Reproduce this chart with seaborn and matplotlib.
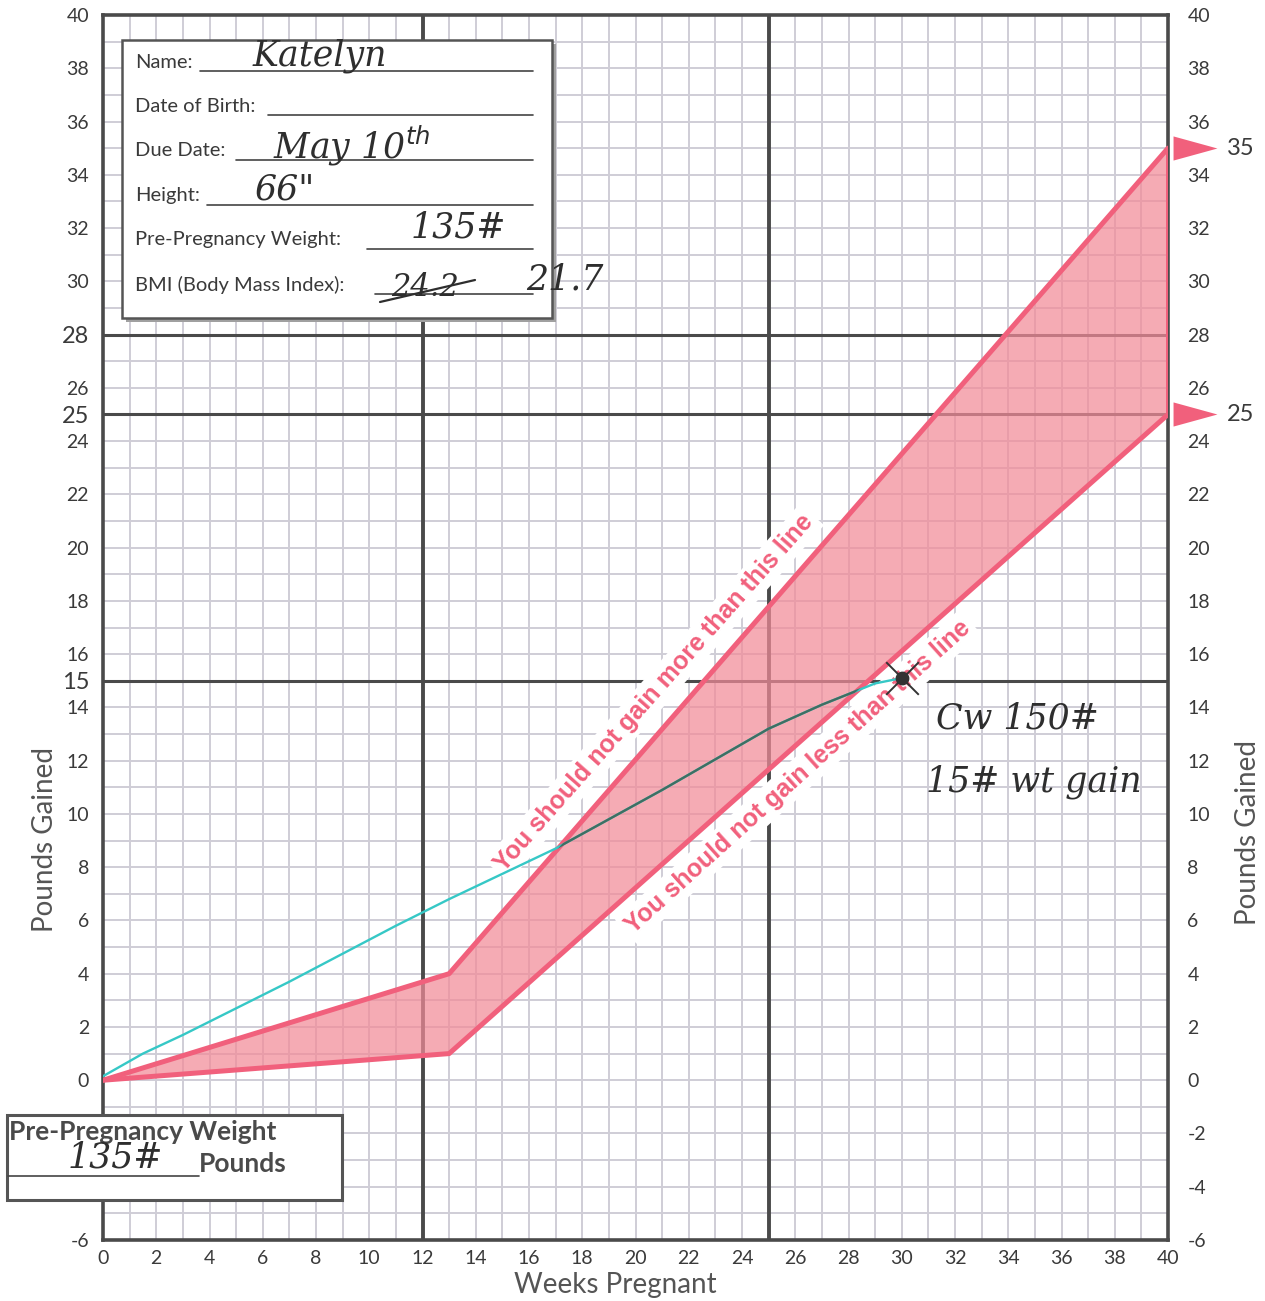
import matplotlib.pyplot as plt
import matplotlib.patches as patches
from matplotlib.lines import Line2D
import seaborn as sns

# recommended weight gain band (weeks pregnant -> pounds gained)
band_weeks = [0, 13, 40]
band_upper = [0, 4, 35]
band_lower = [0, 1, 25]

# patient's recorded gain
weeks = [0, 1.5, 3, 7, 11, 13, 17, 21, 25, 27, 29, 30]
gained = [0.15, 1.0, 1.7, 3.7, 5.8, 6.8, 8.7, 10.9, 13.2, 14.1, 14.9, 15.1]

x_ticks = list(range(0, 41, 2))
left_ticks = [-6, 0, 2, 4, 6, 8, 10, 12, 14, 15, 16, 18, 20, 22, 24, 25, 26, 28, 30, 32, 34, 36, 38, 40]
big_ticks = [15, 25, 28]
right_ticks = list(range(-6, 41, 2))
dark_weeks = [12, 25]
dark_pounds = [15, 25, 28]

form_fields = ['Name:', 'Date of Birth:', 'Due Date:', 'Height:',
               'Pre-Pregnancy Weight:', 'BMI (Body Mass Index):']
form_entries = ['Katelyn', '', 'May 10$^{th}$', '66"', '135#', '21.7']

W, H = 1265, 1301
PINK = '#f1607c'
GRID = '#cfcdd6'
DARK = '#4a4a4a'
TXT = '#3a3a3a'
HAND = dict(family='DejaVu Serif', style='italic', color='#2e2e2e')


def fpx(x, y):
    # pixel position in the picture -> figure fraction
    return x / W, 1 - y / H


sns.set_style('white')
plt.rcParams['font.family'] = ['Lato', 'DejaVu Sans']
plt.rcParams['axes.unicode_minus'] = False

fig = plt.figure(figsize=(W / 100, H / 100), dpi=100)
ax = fig.add_axes([103 / W, 1 - 1240 / H, 1065 / W, 1225 / H])
ax.set_xlim(0, 40)
ax.set_ylim(-6, 40)

# graph paper
ax.set_xticks(x_ticks)
ax.set_xticks(range(0, 41), minor=True)
ax.set_yticks(left_ticks)
ax.set_yticks(range(-6, 41), minor=True)
ax.grid(which='both', color=GRID, lw=1.4, zorder=0)
ax.set_axisbelow(True)
for w in dark_weeks:
    ax.axvline(w, color=DARK, lw=2.8, zorder=1)
for p in dark_pounds:
    ax.axhline(p, color=DARK, lw=2.2, zorder=1)
for s in ax.spines.values():
    s.set_color(DARK)
    s.set_linewidth(2.6)

ax.tick_params(which='both', length=0)
ax.tick_params(axis='y', pad=10, labelsize=14, labelcolor=TXT)
ax.tick_params(axis='x', pad=7, labelsize=14, labelcolor=TXT)
for lab, v in zip(ax.get_yticklabels(), left_ticks):
    if v in big_ticks:
        lab.set_fontsize(17)

ax2 = ax.twinx()
ax2.set_ylim(-6, 40)
ax2.set_yticks(right_ticks)
ax2.tick_params(length=0, pad=14, labelsize=14, labelcolor=TXT)
for s in ax2.spines.values():
    s.set_visible(False)

# band
band = ax.fill_between(band_weeks, band_lower, band_upper, color='#f28b98', alpha=0.72, lw=0, zorder=2)
sns.lineplot(x=band_weeks, y=band_upper, color=PINK, lw=3.6, ax=ax, zorder=4)
sns.lineplot(x=band_weeks, y=band_lower, color=PINK, lw=3.6, ax=ax, zorder=4)
ax.vlines(band_weeks[-1], band_lower[-1], band_upper[-1], color=PINK, lw=3.6, zorder=4)

ax.text(20.7, 14.55, 'You should not gain more than this line', rotation=48.5,
        rotation_mode='anchor', ha='center', va='center', color=PINK,
        fontsize=18, fontweight='bold', family='Liberation Sans', zorder=3,
        bbox=dict(facecolor='white', edgecolor='none', pad=3))
ax.text(26.1, 11.4, 'You should not gain less than this line', rotation=42,
        rotation_mode='anchor', ha='center', va='center', color=PINK,
        fontsize=18, fontweight='bold', family='Liberation Sans', zorder=3,
        bbox=dict(facecolor='white', edgecolor='none', pad=3))

# end markers on the right
tri = [(-1, -0.55), (1, 0), (-1, 0.55), (-1, -0.55)]
ends = [band_upper[-1], band_lower[-1]]
ax.scatter([41.0] * len(ends), ends, marker=tri, s=1000, color=PINK, lw=0, clip_on=False, zorder=6)
for v in ends:
    ax.text(42.2, v, str(v), va='center', fontsize=17, color=TXT, clip_on=False)

# patient line: cyan, darker where it runs through the band
sns.lineplot(x=weeks, y=gained, color='#36c8c6', lw=1.7, ax=ax, zorder=5)
sns.lineplot(x=weeks, y=gained, color='#3f6e62', lw=1.7, ax=ax, zorder=5)
ax.lines[-1].set_clip_path(band.get_paths()[0], band.get_transform())
ax.scatter([weeks[-1]], [gained[-1]], s=80, color='#333333', zorder=7)
ax.scatter([weeks[-1]], [gained[-1]], s=550, marker='x', color='#333333', lw=1.4, zorder=7)

ax.text(31.3, 13.6, 'Cw 150#', fontsize=25, va='center', zorder=7, **HAND)
ax.text(30.9, 11.2, '15# wt gain', fontsize=25, va='center', zorder=7, **HAND)

# axis titles
ax.set_xlabel('Weeks Pregnant', fontsize=20, color='#555555')
ax.xaxis.set_label_coords(0.481, -0.026)
ax.set_ylabel('Pounds Gained', fontsize=20, color='#555555', va='center')
ax.yaxis.set_label_coords(-0.054, 0.327)
ax2.set_ylabel('Pounds Gained', fontsize=20, color='#555555', va='center', rotation=90)
ax2.yaxis.set_label_coords(1.075, 0.333)

# info card, top left
fig.add_artist(patches.Rectangle(fpx(126, 322), 430 / W, 278 / H, transform=fig.transFigure,
                                 fc='#a0a0a0', ec='none', zorder=4))
fig.add_artist(patches.Rectangle(fpx(122, 318), 430 / W, 278 / H, transform=fig.transFigure,
                                 fc='white', ec='#555555', lw=1.8, zorder=5))
row_y = [62, 106, 151, 196, 240, 285]
line_x0 = [200, 268, 236, 207, 367, 375]
entry_xy = [(320, 56), None, (352, 146), (285, 190), (458, 228), (565, 280)]
for field, entry, y, x0, xy in zip(form_fields, form_entries, row_y, line_x0, entry_xy):
    fig.text(*fpx(135, y), field, va='center', fontsize=14.5, color=TXT, zorder=6)
    fig.add_artist(Line2D([x0 / W, 533 / W], [1 - (y + 9) / H] * 2, transform=fig.transFigure,
                          color='#444444', lw=1.2, zorder=6))
    if xy:
        fig.text(*fpx(*xy), entry, ha='center', va='center', fontsize=25, zorder=7, **HAND)
fig.text(*fpx(425, 287), '24.2', ha='center', va='center', fontsize=22, zorder=7, **HAND)
fig.add_artist(Line2D([380 / W, 475 / W], [1 - 302 / H, 1 - 280 / H], transform=fig.transFigure,
                      color='#2e2e2e', lw=1.6, zorder=7))

# pre-pregnancy weight box, bottom left
fig.add_artist(patches.Rectangle(fpx(7, 1200), 335 / W, 85 / H, transform=fig.transFigure,
                                 fc='white', ec='#555555', lw=2.2, zorder=5))
fig.text(*fpx(9, 1132), 'Pre-Pregnancy Weight', fontsize=19, fontweight='bold', color='#4a4a4a',
         va='center', zorder=6)
fig.text(*fpx(199, 1164), 'Pounds', fontsize=19, fontweight='bold', color='#4a4a4a',
         va='center', zorder=6)
fig.add_artist(Line2D([8 / W, 199 / W], [1 - 1176 / H] * 2, transform=fig.transFigure,
                      color='#444444', lw=1.2, zorder=6))
fig.text(*fpx(115, 1158), '135#', ha='center', va='center', fontsize=25, zorder=7, **HAND)

fig.savefig('out.png', dpi=100, facecolor='white')
